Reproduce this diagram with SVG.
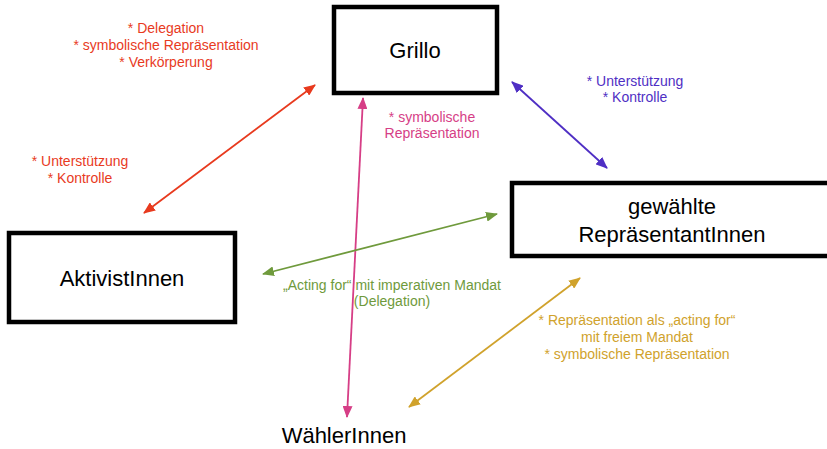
<svg xmlns="http://www.w3.org/2000/svg" width="827" height="449" viewBox="0 0 827 449">
<style>
.box{fill:#fff;stroke:#000;stroke-width:4.5}
.nt{font-family:"Liberation Sans",Arial,sans-serif;font-size:22px;fill:#000;text-anchor:middle}
.lb{font-family:"Liberation Sans",Arial,sans-serif;font-size:14px;text-anchor:middle}
.c{fill:none;stroke-width:1.8}
</style>
<defs>
<marker id="aR" markerUnits="userSpaceOnUse" markerWidth="12" markerHeight="10" refX="11" refY="5" orient="auto-start-reverse"><path d="M0,0 L12,5 L0,10 Z" fill="#e83a1e"/></marker>
<marker id="aB" markerUnits="userSpaceOnUse" markerWidth="12" markerHeight="10" refX="11" refY="5" orient="auto-start-reverse"><path d="M0,0 L12,5 L0,10 Z" fill="#4f2fc4"/></marker>
<marker id="aP" markerUnits="userSpaceOnUse" markerWidth="12" markerHeight="10" refX="11" refY="5" orient="auto-start-reverse"><path d="M0,0 L12,5 L0,10 Z" fill="#d63e86"/></marker>
<marker id="aG" markerUnits="userSpaceOnUse" markerWidth="12" markerHeight="10" refX="11" refY="5" orient="auto-start-reverse"><path d="M0,0 L12,5 L0,10 Z" fill="#6f9a3c"/></marker>
<marker id="aO" markerUnits="userSpaceOnUse" markerWidth="12" markerHeight="10" refX="11" refY="5" orient="auto-start-reverse"><path d="M0,0 L12,5 L0,10 Z" fill="#d0a22c"/></marker>
</defs>
<rect width="827" height="449" fill="#fff"/>
<g id="grillo"><rect class="box" x="334" y="7" width="163" height="86"/><text class="nt" x="415" y="58">Grillo</text></g>
<g id="gewaehlte"><rect class="box" x="512" y="183" width="325" height="73"/><text class="nt" x="672" y="214">gewählte</text><text class="nt" x="672" y="242">RepräsentantInnen</text></g>
<g id="aktivist"><rect class="box" x="9" y="233" width="226" height="89"/><text class="nt" x="122" y="286">AktivistInnen</text></g>
<g id="waehler"><text class="nt" x="344" y="443">WählerInnen</text></g>
<g id="connectors">
<line class="c" stroke="#e83a1e" x1="144" y1="213" x2="315" y2="85" marker-start="url(#aR)" marker-end="url(#aR)"/>
<line class="c" stroke="#4f2fc4" x1="512" y1="82" x2="607" y2="168" marker-start="url(#aB)" marker-end="url(#aB)"/>
<line class="c" stroke="#d63e86" x1="347" y1="417" x2="363" y2="98" marker-start="url(#aP)" marker-end="url(#aP)"/>
<line class="c" stroke="#6f9a3c" x1="263" y1="274" x2="497" y2="214" marker-start="url(#aG)" marker-end="url(#aG)"/>
<line class="c" stroke="#d0a22c" x1="409" y1="407" x2="580" y2="278" marker-start="url(#aO)" marker-end="url(#aO)"/>
</g>
<g id="labels">
<g fill="#e83a1e"><text class="lb" x="166" y="33">* Delegation</text><text class="lb" x="166" y="50">* symbolische Repräsentation</text><text class="lb" x="166" y="67">* Verkörperung</text><text class="lb" x="80" y="166">* Unterstützung</text><text class="lb" x="80" y="183">* Kontrolle</text></g>
<g fill="#4f2fc4"><text class="lb" x="635" y="86">* Unterstützung</text><text class="lb" x="635" y="102">* Kontrolle</text></g>
<g fill="#d63e86"><text class="lb" x="432" y="122">* symbolische</text><text class="lb" x="432" y="138">Repräsentation</text></g>
<g fill="#6f9a3c"><text class="lb" x="392" y="290">„Acting for“ mit imperativen Mandat</text><text class="lb" x="392" y="306">(Delegation)</text></g>
<g fill="#d0a22c"><text class="lb" x="637" y="325">* Repräsentation als „acting for“</text><text class="lb" x="637" y="342">mit freiem Mandat</text><text class="lb" x="637" y="359">* symbolische Repräsentation</text></g>
</g>
</svg>
